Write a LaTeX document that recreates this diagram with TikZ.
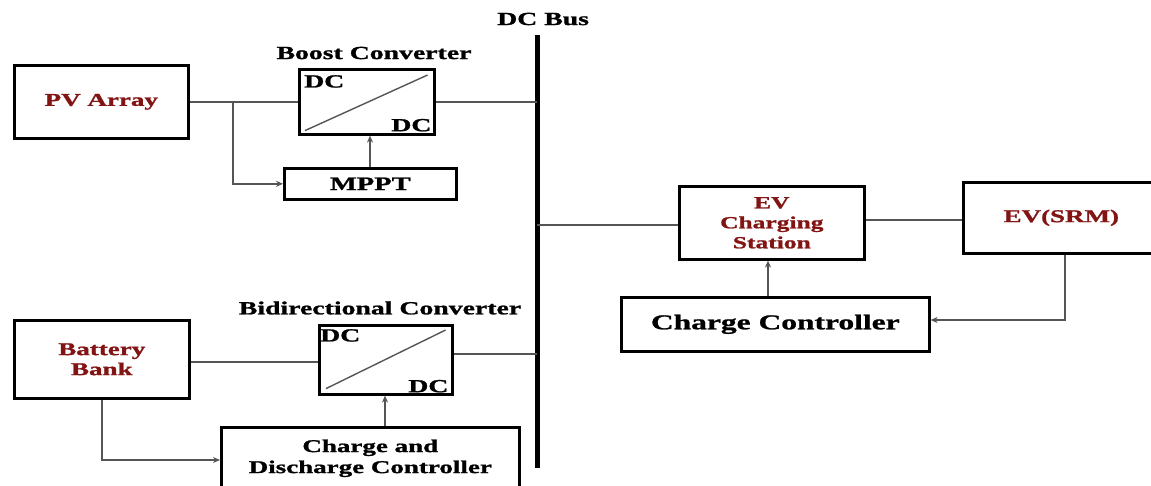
\documentclass[tikz,border=0pt]{standalone}
\usepackage{fontspec}
\setmainfont[FakeStretch=1.5,FakeBold=1.2]{Liberation Serif}
\usetikzlibrary{arrows.meta,calc}
\definecolor{txtred}{RGB}{130,20,20}
\definecolor{wire}{RGB}{85,85,85}
\tikzset{
  box/.style={draw=black, line width=2.6pt, anchor=north west, inner sep=0pt, font=\bfseries},
  conn/.style={draw=wire, line width=1.8pt},
  arr/.style={conn, -{Stealth[length=7pt,width=6pt]}},
  lbl/.style={font=\bfseries\fontsize{18.5}{20}\selectfont, inner sep=0pt},
  redtxt/.style={text=txtred, font=\bfseries\fontsize{18}{19}\selectfont, align=center},
}
\begin{document}
\begin{tikzpicture}[x=1pt,y=-1pt]
\useasboundingbox (0,0) rectangle (1151,485);
% PV array
\node[box, minimum width=174pt, minimum height=73pt, redtxt] (pv) at (13,64) {PV Array};
% Boost converter
\node[box, minimum width=135pt, minimum height=65pt] (boost) at (298,68) {};
\draw[draw=wire, line width=1.4pt] ($(boost.south west)+(7,-5)$) -- ($(boost.north east)+(-8,7)$);
\node[lbl, anchor=north west] (bdc1) at ($(boost.north west)+(6,7)$) {DC};
\node[lbl, anchor=south east] (bdc2) at ($(boost.south east)+(-4,-4)$) {DC};
\node[lbl] (boostlbl) at (374,53) {Boost Converter};
% MPPT
\node[box, minimum width=172pt, minimum height=31pt, font=\bfseries\fontsize{19}{20}\selectfont] (mppt) at (283,167) {MPPT};
% DC bus
\coordinate (bustop) at (537,35);
\coordinate (busbot) at (537,468);
\draw[line width=5pt, black] (bustop) -- (busbot);
\node[lbl, anchor=west] (buslbl) at (497,19) {DC Bus};
% Battery bank
\node[box, minimum width=175pt, minimum height=78pt, redtxt, font=\bfseries\fontsize{18}{20}\selectfont] (bat) at (13,319) {Battery\\Bank};
% Bidirectional converter
\node[box, minimum width=133pt, minimum height=69pt] (bid) at (318,324) {};
\draw[draw=wire, line width=1.4pt] ($(bid.south west)+(8,-7)$) -- ($(bid.north east)+(-8,6)$);
\node[lbl, anchor=north west] (ddc1) at ($(bid.north west)+(2,5)$) {DC};
\node[lbl, anchor=south east] (ddc2) at ($(bid.south east)+(-5,-3)$) {DC};
\node[lbl] (bidlbl) at (380,308) {Bidirectional Converter};
% Charge and discharge controller
\node[box, minimum width=298pt, minimum height=62pt, align=center, font=\bfseries\fontsize{18}{21}\selectfont] (cdc) at (220,426) {Charge and\\Discharge Controller};
% EV charging station
\node[box, minimum width=185pt, minimum height=73pt, redtxt, font=\bfseries\fontsize{17}{20}\selectfont] (evcs) at (678,185) {EV\\Charging\\Station};
% EV(SRM)
\node[box, minimum width=196pt, minimum height=71pt, redtxt] (ev) at (962,181) {EV(SRM)};
% Charge controller
\node[box, minimum width=308pt, minimum height=54pt, font=\bfseries\fontsize{21}{23}\selectfont] (cc) at (620,296) {Charge Controller};
% connectors
\draw[conn] (pv.east) -- (boost.west);
\draw[arr] ($(pv.east)+(43,0)$) |- (mppt.west);
\draw[conn] (boost.east) -- (bustop |- boost.east);
\draw[arr] (mppt.north -| 370,0) -- (boost.south -| 370,0);
\draw[conn] (bat.east |- 0,362) -- (bid.west |- 0,362);
\draw[conn] (bid.east |- 0,354) -- (bustop |- 0,354);
\draw[arr] (bat.south -| 102,0) |- (cdc.west |- 0,460);
\draw[arr] (cdc.north -| 385,0) -- (bid.south -| 385,0);
\draw[conn] (bustop |- 0,225) -- (evcs.west |- 0,225);
\draw[conn] (evcs.east |- 0,220) -- (ev.west |- 0,220);
\draw[arr] (cc.north -| 768,0) -- (evcs.south -| 768,0);
\draw[arr] (ev.south -| 1065,0) |- (cc.east |- 0,320);
\end{tikzpicture}
\end{document}
